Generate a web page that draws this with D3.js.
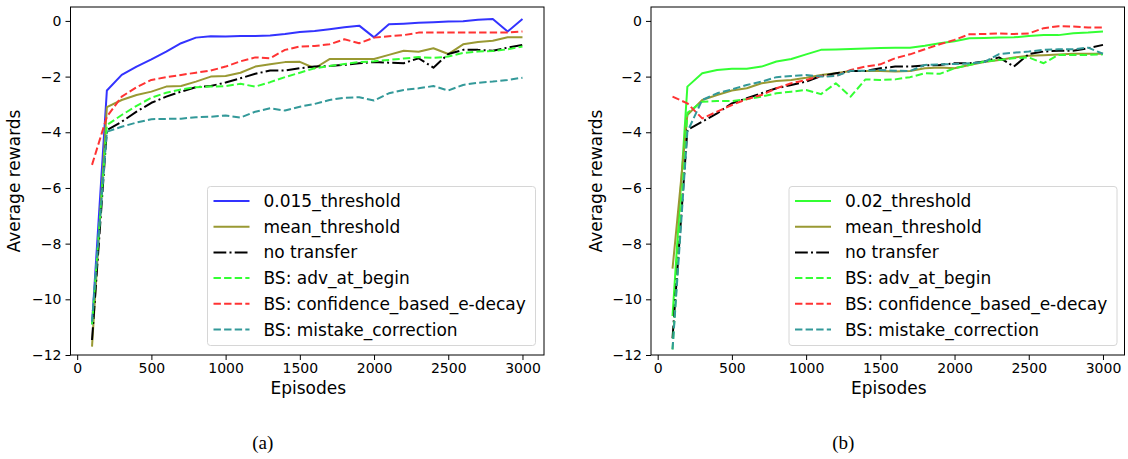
<!DOCTYPE html>
<html>
<head>
<meta charset="utf-8">
<script src="https://cdn.jsdelivr.net/npm/d3@7"></script>
<style>
  html, body { margin: 0; padding: 0; background: #ffffff; }
  svg { display: block; }
  text { font-family: "DejaVu Sans", sans-serif; fill: #000; }
</style>
</head>
<body>
<svg id="chart" width="1128" height="459"></svg>
<script>
// ---------- data ----------
const episodes = [100, 200, 300, 400, 500, 600, 700, 800, 900, 1000,
                  1100, 1200, 1300, 1400, 1500, 1600, 1700, 1800, 1900, 2000,
                  2100, 2200, 2300, 2400, 2500, 2600, 2700, 2800, 2900, 3000];
const xTicks = [0, 500, 1000, 1500, 2000, 2500, 3000];
const yTicks = [0, -2, -4, -6, -8, -10, -12];

// panel (a)
const a_threshold015 = [-10.9, -2.50, -1.94, -1.64, -1.38, -1.10, -0.80, -0.60, -0.55, -0.56,
                        -0.54, -0.54, -0.52, -0.47, -0.40, -0.36, -0.30, -0.23, -0.17, -0.59,
                        -0.12, -0.10, -0.07, -0.05, -0.02, -0.01, 0.04, 0.07, -0.38, 0.07];
const a_mean = [-11.7, -3.10, -2.84, -2.66, -2.54, -2.36, -2.34, -2.18, -2.00, -1.98,
                -1.86, -1.64, -1.56, -1.48, -1.47, -1.70, -1.37, -1.37, -1.37, -1.37,
                -1.22, -1.07, -1.11, -0.98, -1.19, -0.84, -0.76, -0.71, -0.59, -0.59];
const a_noTransfer = [-11.46, -3.92, -3.62, -3.26, -2.94, -2.72, -2.54, -2.38, -2.34, -2.21,
                      -2.06, -1.90, -1.78, -1.78, -1.70, -1.64, -1.62, -1.58, -1.52, -1.48,
                      -1.50, -1.52, -1.34, -1.68, -1.19, -1.04, -1.04, -1.07, -0.96, -0.86];
const a_advBegin = [-10.9, -3.74, -3.38, -3.05, -2.76, -2.58, -2.46, -2.38, -2.36, -2.34,
                    -2.26, -2.36, -2.20, -2.02, -1.86, -1.70, -1.62, -1.55, -1.48, -1.45,
                    -1.40, -1.35, -1.30, -1.33, -1.28, -1.15, -1.10, -1.08, -1.02, -0.92];
const a_confidence = [-5.17, -3.44, -2.72, -2.38, -2.12, -2.02, -1.94, -1.86, -1.78, -1.64,
                      -1.45, -1.31, -1.34, -1.04, -0.92, -0.90, -0.84, -0.66, -0.80, -0.60,
                      -0.55, -0.51, -0.42, -0.42, -0.42, -0.42, -0.42, -0.42, -0.42, -0.38];
const a_mistake = [-10.8, -3.98, -3.80, -3.65, -3.53, -3.52, -3.51, -3.46, -3.44, -3.40,
                   -3.47, -3.26, -3.14, -3.22, -3.08, -2.98, -2.84, -2.76, -2.74, -2.86,
                   -2.60, -2.48, -2.42, -2.34, -2.50, -2.30, -2.22, -2.18, -2.12, -2.04];

// panel (b)
const b_threshold02 = [-10.6, -2.36, -1.88, -1.76, -1.72, -1.72, -1.64, -1.46, -1.37, -1.20,
                       -1.04, -1.03, -1.01, -0.99, -0.97, -0.96, -0.96, -0.89, -0.80, -0.73,
                       -0.62, -0.61, -0.60, -0.59, -0.54, -0.51, -0.51, -0.44, -0.42, -0.38];
const b_mean = [-8.9, -3.38, -2.84, -2.66, -2.50, -2.42, -2.24, -2.16, -2.12, -2.04,
                -1.94, -1.88, -1.80, -1.80, -1.80, -1.82, -1.80, -1.70, -1.67, -1.70,
                -1.58, -1.48, -1.40, -1.31, -1.25, -1.23, -1.21, -1.18, -1.18, -1.18];
const b_noTransfer = [-11.4, -3.92, -3.62, -3.32, -2.96, -2.78, -2.60, -2.42, -2.30, -2.18,
                      -1.98, -1.88, -1.80, -1.80, -1.70, -1.64, -1.64, -1.60, -1.58, -1.52,
                      -1.52, -1.46, -1.31, -1.64, -1.19, -1.10, -1.07, -1.07, -0.98, -0.86];
const b_advBegin = [-11.8, -3.30, -2.90, -2.88, -2.88, -2.81, -2.72, -2.60, -2.54, -2.48,
                    -2.63, -2.24, -2.72, -2.10, -2.12, -2.10, -2.02, -1.88, -1.90, -1.70,
                    -1.58, -1.46, -1.40, -1.34, -1.31, -1.52, -1.22, -1.22, -1.22, -1.20];
const b_confidence = [-2.72, -2.96, -3.50, -3.26, -3.02, -2.81, -2.66, -2.42, -2.24, -2.12,
                      -1.98, -1.98, -1.76, -1.64, -1.56, -1.34, -1.20, -1.02, -0.84, -0.68,
                      -0.48, -0.47, -0.45, -0.47, -0.45, -0.26, -0.19, -0.20, -0.24, -0.24];
const b_mistake = [-11.8, -3.98, -2.84, -2.60, -2.46, -2.30, -2.18, -2.02, -1.98, -1.94,
                   -2.00, -1.98, -1.79, -1.79, -1.76, -1.79, -1.80, -1.58, -1.56, -1.55,
                   -1.52, -1.48, -1.19, -1.14, -1.10, -1.04, -1.02, -1.02, -0.96, -1.18];

const a_labels = ["0.015_threshold", "mean_threshold", "no transfer",
                  "BS: adv_at_begin", "BS: confidence_based_e-decay", "BS: mistake_correction"];
const b_labels = ["0.02_threshold", "mean_threshold", "no transfer",
                  "BS: adv_at_begin", "BS: confidence_based_e-decay", "BS: mistake_correction"];
const a_colors = ["#3333ff", "#999933", "#000000", "#33ff33", "#ff3333", "#339999"];
const b_colors = ["#33ff33", "#999933", "#000000", "#33ff33", "#ff3333", "#339999"];
const dashes = [null, null, "12.8,3.2,2,3.2", "7.4,3.2", "7.4,3.2", "7.4,3.2"];

const panels = [
  { id: "a", left: 70.5, right: 544, caption: "(a)", labels: a_labels, colors: a_colors,
    series: [a_threshold015, a_mean, a_noTransfer, a_advBegin, a_confidence, a_mistake],
    legendX: 207.5, ylabelX: 20 },
  { id: "b", left: 651, right: 1124.5, caption: "(b)", labels: b_labels, colors: b_colors,
    series: [b_threshold02, b_mean, b_noTransfer, b_advBegin, b_confidence, b_mistake],
    legendX: 789, ylabelX: 602 }
];

const plotTop = 7, plotBottom = 355;
const svg = d3.select("#chart");

panels.forEach(p => {
  const x = d3.scaleLinear().domain([-45, 3145]).range([p.left, p.right]);
  const y = d3.scaleLinear().domain([-12, 0.5]).range([plotBottom, plotTop]);
  const g = svg.append("g");

  g.append("clipPath").attr("id", "clip-" + p.id)
    .append("rect").attr("x", p.left).attr("y", plotTop)
    .attr("width", p.right - p.left).attr("height", plotBottom - plotTop);

  const line = d3.line().x((d, i) => x(episodes[i])).y(d => y(d));
  const lines = g.append("g").attr("clip-path", `url(#clip-${p.id})`);
  p.series.forEach((s, k) => {
    lines.append("path").datum(s)
      .attr("d", line)
      .attr("fill", "none")
      .attr("stroke", p.colors[k])
      .attr("stroke-width", 2)
      .attr("stroke-linejoin", "round")
      .attr("stroke-dasharray", dashes[k]);
  });

  // axes
  const fmt = d => (d < 0 ? "\u2212" + Math.abs(d) : String(d));
  const xa = g.append("g").attr("transform", `translate(0,${plotBottom})`)
    .call(d3.axisBottom(x).tickValues(xTicks).tickSize(5).tickPadding(3).tickFormat(fmt));
  const ya = g.append("g").attr("transform", `translate(${p.left},0)`)
    .call(d3.axisLeft(y).tickValues(yTicks).tickSize(5).tickPadding(4).tickFormat(fmt));
  [xa, ya].forEach(ax => {
    ax.select(".domain").remove();
    ax.selectAll("line").attr("stroke", "#000").attr("stroke-width", 1);
    ax.selectAll("text").style("font-family", "DejaVu Sans").style("font-size", "14px").attr("fill", "#000");
  });

  g.append("rect").attr("x", p.left).attr("y", plotTop)
    .attr("width", p.right - p.left).attr("height", plotBottom - plotTop)
    .attr("fill", "none").attr("stroke", "#000").attr("stroke-width", 1);

  // labels
  g.append("text").attr("x", (p.left + p.right) / 2 + 1).attr("y", 394)
    .attr("text-anchor", "middle").style("font-size", "17px").text("Episodes");
  g.append("text")
    .attr("transform", `translate(${p.ylabelX},${(plotTop + plotBottom) / 2}) rotate(-90)`)
    .attr("text-anchor", "middle").style("font-size", "17px").text("Average rewards");
  g.append("text").attr("x", x(1250)).attr("y", 449)
    .attr("text-anchor", "middle")
    .style("font-family", "'Liberation Serif', serif").style("font-size", "19px")
    .text(p.caption);

  // legend
  const lx = p.legendX, ly = 186.5;
  const lg = g.append("g");
  lg.append("rect").attr("x", lx).attr("y", ly).attr("width", 328).attr("height", 159)
    .attr("rx", 3).attr("fill", "rgba(255,255,255,0.8)").attr("stroke", "#d6d6d6").attr("stroke-width", 1);
  p.labels.forEach((lab, k) => {
    const cy = ly + 14.5 + k * 25.7;
    lg.append("line").attr("x1", lx + 6).attr("x2", lx + 42).attr("y1", cy).attr("y2", cy)
      .attr("stroke", p.colors[k]).attr("stroke-width", 2).attr("stroke-dasharray", dashes[k]);
    lg.append("text").attr("x", lx + 56).attr("y", cy + 6)
      .style("font-size", "17px").text(lab);
  });
});
</script>
</body>
</html>
